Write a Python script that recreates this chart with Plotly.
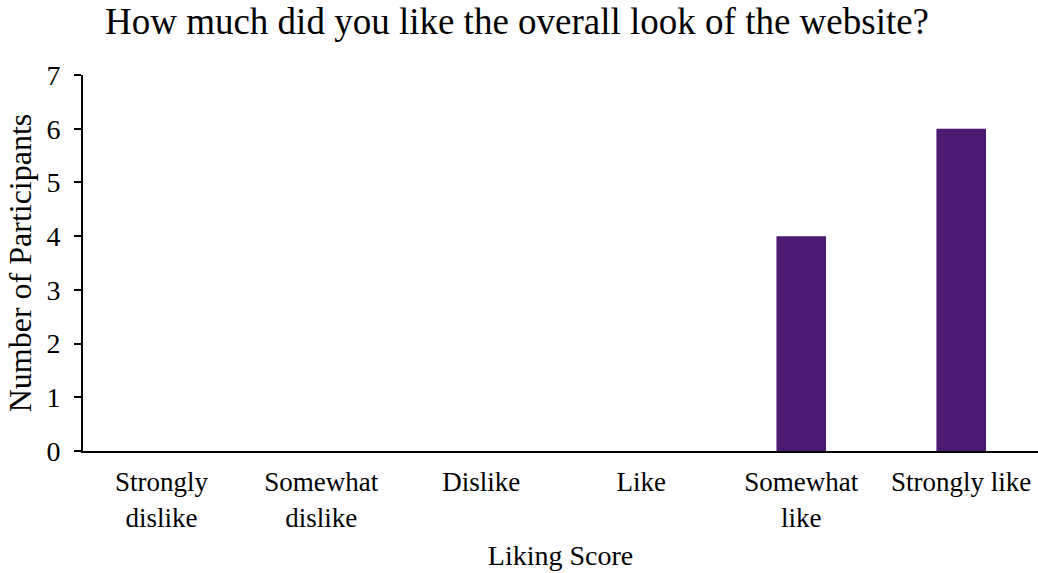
import plotly.graph_objects as go

categories = ["Strongly<br>dislike", "Somewhat<br>dislike", "Dislike", "Like", "Somewhat<br>like", "Strongly like"]
participants = [0, 0, 0, 0, 4, 6]
y_ticks = [0, 1, 2, 3, 4, 5, 6, 7]

font_family = "Liberation Serif, Times New Roman, serif"

W, H = 1038, 573

fig = go.Figure(go.Bar(
    x=categories,
    y=participants,
    width=0.31,
    marker=dict(color="#4C1A72", line=dict(width=0)),
))

fig.update_layout(
    width=W, height=H,
    margin=dict(l=83, r=0, t=75, b=122, autoexpand=False),
    paper_bgcolor="white", plot_bgcolor="white",
    font=dict(family=font_family, color="black", size=27),
    showlegend=False,
    title=dict(text="How much did you like the overall look of the website?",
               x=517 / W, xanchor="center", xref="container",
               y=1 - 21 / H, yanchor="middle", yref="container",
               font=dict(size=37, family=font_family, color="black")),
)

fig.update_xaxes(
    type="category", range=[-0.49, 5.48], automargin=False,
    showline=True, linecolor="black", linewidth=2,
    ticks="", showgrid=False, tickfont=dict(size=27),
    ticklabelstandoff=6,
    title=dict(text="Liking Score", font=dict(size=28), standoff=14),
)
fig.update_yaxes(
    range=[0, 7], tickvals=y_ticks, automargin=False,
    showline=True, linecolor="black", linewidth=2,
    ticks="outside", ticklen=7, tickwidth=2, tickcolor="black",
    ticklabelstandoff=8,
    showgrid=False, zeroline=False, tickfont=dict(size=28),
    title=dict(text="Number of Participants", font=dict(size=32), standoff=5),
)

fig.write_html(
    "out.html",
    config={"displayModeBar": False},
    post_script="document.body.style.margin='0';document.body.style.overflow='hidden';",
)
